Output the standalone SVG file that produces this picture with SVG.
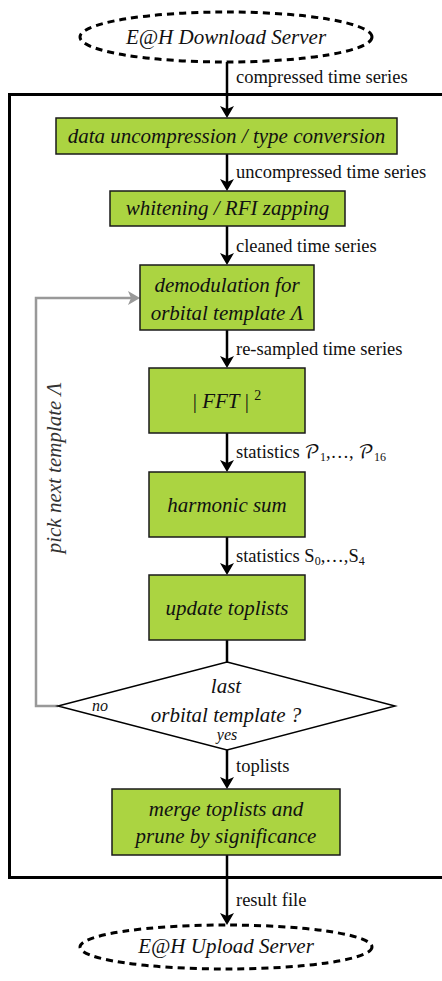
<svg xmlns="http://www.w3.org/2000/svg" width="442" height="981" viewBox="0 0 442 981">
<style>
  .box { fill: #abd441; stroke: #1a1a1a; stroke-width: 1.5; }
  .node { font-family: 'Liberation Serif', 'DejaVu Serif', 'Times New Roman', serif; font-style: italic; font-size: 21px; fill: #111; text-anchor: middle; }
  .lbl { font-family: 'Liberation Serif', 'DejaVu Serif', 'Times New Roman', serif; font-size: 18.5px; fill: #111; }
  .small { font-family: 'Liberation Serif', 'DejaVu Serif', serif; font-style: italic; font-size: 16px; fill: #111; text-anchor: middle; }
  .flow { stroke: #000; stroke-width: 2.5; fill: none; }
  .back { stroke: #999; stroke-width: 2.5; fill: none; }
  .dash { fill: #fff; stroke: #000; stroke-width: 3; stroke-dasharray: 7 5; }
  .script { font-family: 'DejaVu Math TeX Gyre', 'DejaVu Serif', serif; font-style: normal; }
</style>
<defs>
  <marker id="ah" markerUnits="userSpaceOnUse" markerWidth="12" markerHeight="14" viewBox="0 0 12 14" refX="6" refY="7" orient="auto">
    <path d="M0,0 L12,7 L0,14 L3,7 z" fill="#000"/>
  </marker>
  <marker id="ahg" markerUnits="userSpaceOnUse" markerWidth="12" markerHeight="14" viewBox="0 0 12 14" refX="6" refY="7" orient="auto">
    <path d="M0,0 L12,7 L0,14 L3,7 z" fill="#999"/>
  </marker>
</defs>

<rect id="frame" x="9.5" y="94.5" width="460" height="783" fill="none" stroke="#000" stroke-width="3"/>

<g id="connectors">
  <line class="flow" x1="227" y1="62" x2="227" y2="112" marker-end="url(#ah)"/>
  <line class="flow" x1="227" y1="154" x2="227" y2="185" marker-end="url(#ah)"/>
  <line class="flow" x1="227" y1="226" x2="227" y2="259" marker-end="url(#ah)"/>
  <line class="flow" x1="227" y1="330" x2="227" y2="362" marker-end="url(#ah)"/>
  <line class="flow" x1="227" y1="433" x2="227" y2="466" marker-end="url(#ah)"/>
  <line class="flow" x1="227" y1="537" x2="227" y2="569" marker-end="url(#ah)"/>
  <line class="flow" x1="227" y1="640" x2="227" y2="662"/>
  <line class="flow" x1="227" y1="750" x2="227" y2="783" marker-end="url(#ah)"/>
  <line class="flow" x1="227" y1="855" x2="227" y2="877"/>
  <line class="flow" x1="227" y1="879" x2="227" y2="919" marker-end="url(#ah)"/>
  <polyline class="back" points="58,706 36,706 36,298 134,298" marker-end="url(#ahg)"/>
  <text class="lbl" x="236" y="83">compressed time series</text>
  <text class="lbl" x="236" y="178">uncompressed time series</text>
  <text class="lbl" x="236" y="252">cleaned time series</text>
  <text class="lbl" x="236" y="355">re-sampled time series</text>
  <text class="lbl" x="236" y="458">statistics <tspan class="script">𝒫</tspan><tspan font-size="12" dy="3">1</tspan><tspan dy="-3">,…,  </tspan><tspan class="script">𝒫</tspan><tspan font-size="12" dy="3">16</tspan></text>
  <text class="lbl" x="236" y="562">statistics S<tspan font-size="12" dy="3">0</tspan><tspan dy="-3">,…,S</tspan><tspan font-size="12" dy="3">4</tspan></text>
  <text class="lbl" x="236" y="772">toplists</text>
  <text class="lbl" x="236" y="906">result file</text>
  <text class="node" style="fill:#333" transform="translate(61,468) rotate(-90)">pick next template Λ</text>
</g>

<g id="download">
  <ellipse class="dash" cx="226" cy="37" rx="146" ry="25"/>
  <text class="node" x="226" y="44">E@H Download Server</text>
</g>

<g id="uncompress">
  <rect class="box" x="56" y="118" width="341" height="36"/>
  <text class="node" x="226.5" y="143">data uncompression / type conversion</text>
</g>

<g id="whitening">
  <rect class="box" x="110" y="191" width="235" height="35"/>
  <text class="node" x="227.5" y="215">whitening / RFI zapping</text>
</g>

<g id="demod">
  <rect class="box" x="140" y="265" width="174" height="65"/>
  <text class="node" x="227" y="292">demodulation for</text>
  <text class="node" x="227" y="320">orbital template Λ</text>
</g>

<g id="fft">
  <rect class="box" x="149" y="368" width="156" height="65"/>
  <text class="node" x="227" y="408"><tspan font-style="normal">| </tspan>FFT<tspan font-style="normal"> | </tspan><tspan font-style="normal" font-size="14" dy="-8">2</tspan></text>
</g>

<g id="harmonic">
  <rect class="box" x="149" y="472" width="156" height="65"/>
  <text class="node" x="227" y="512">harmonic sum</text>
</g>

<g id="toplists">
  <rect class="box" x="149" y="575" width="156" height="65"/>
  <text class="node" x="227" y="615">update toplists</text>
</g>

<g id="decision">
  <polygon points="227,662 395,706 227,750 58,706" fill="#fff" stroke="#000" stroke-width="1.5"/>
  <text class="node" x="226" y="693">last</text>
  <text class="node" x="226" y="722">orbital template ?</text>
  <text class="small" x="100" y="711">no</text>
  <text class="small" x="227" y="740">yes</text>
</g>

<g id="merge">
  <rect class="box" x="112" y="789" width="228" height="66"/>
  <text class="node" x="226" y="816">merge toplists and</text>
  <text class="node" x="226" y="843">prune by significance</text>
</g>

<g id="upload">
  <ellipse class="dash" cx="226" cy="947" rx="146" ry="22"/>
  <text class="node" x="226" y="953">E@H Upload Server</text>
</g>
</svg>
